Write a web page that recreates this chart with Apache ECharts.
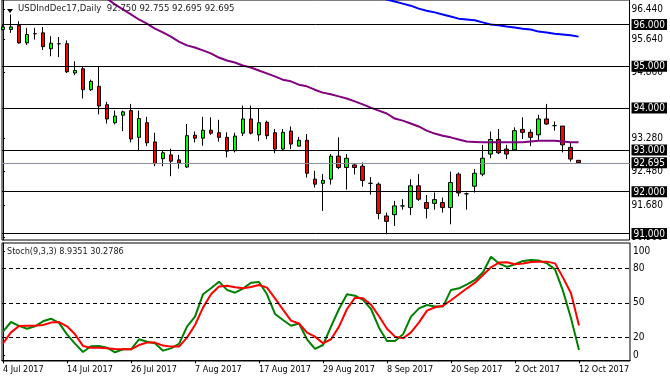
<!DOCTYPE html>
<html><head><meta charset="utf-8">
<script src="https://cdn.jsdelivr.net/npm/echarts@6/dist/echarts.min.js"></script>
<style>html,body{margin:0;padding:0;background:#fff}#c{width:670px;height:382px}</style>
</head><body><div id="c"></div>
<script>
const symbolName = 'USDIndDec17,Daily';
const tickIdx = [0, 8, 16, 24, 32, 40, 48, 56, 64, 72];
const tickLabels = ['4 Jul 2017','14 Jul 2017','26 Jul 2017','7 Aug 2017','17 Aug 2017','29 Aug 2017','8 Sep 2017','20 Sep 2017','2 Oct 2017','12 Oct 2017'];

const opens  = [95.88,95.88,95.98,95.56,95.78,95.80,95.42,95.54,95.54,94.84,94.94,94.44,94.52,94.08,93.65,93.83,93.94,93.30,93.65,93.19,92.79,92.88,92.76,92.59,93.35,93.28,93.47,93.41,93.30,92.98,93.40,93.74,93.36,93.66,93.41,93.02,93.45,93.09,93.23,92.30,92.20,92.30,92.85,92.58,92.64,92.61,92.20,92.18,91.42,91.45,91.66,91.62,92.14,91.74,91.72,91.74,91.62,92.42,91.95,92.13,92.42,92.90,93.25,93.02,93.00,93.49,93.42,93.36,93.74,93.58,93.57,93.06,92.750];
const highs  = [96.00,96.24,96.08,95.92,95.92,95.94,95.72,95.70,95.62,95.12,94.99,94.68,94.99,94.15,93.94,93.94,94.10,93.94,93.79,93.41,92.99,93.03,92.88,93.62,93.44,93.79,93.78,93.72,93.42,93.41,94.06,94.06,94.00,93.70,93.50,93.50,93.56,93.31,93.38,92.50,92.42,92.90,93.30,92.90,92.66,92.70,92.35,92.22,91.50,91.78,91.82,92.30,92.42,91.92,91.98,91.86,92.48,92.46,91.98,92.54,93.12,93.44,93.50,93.12,93.54,93.78,93.49,93.84,94.10,93.68,93.57,93.18,92.755];
const lows   = [95.86,95.80,95.54,95.51,95.64,95.39,95.24,95.22,94.84,94.79,94.23,94.41,93.85,93.63,93.61,93.45,93.18,92.97,93.09,92.61,92.61,92.37,92.55,92.57,93.18,93.10,93.36,93.20,92.82,92.94,93.33,93.37,93.21,93.26,92.92,92.97,93.02,93.08,92.34,92.10,91.54,92.17,92.54,92.05,92.41,92.12,91.93,91.34,90.98,91.18,91.57,91.44,91.78,91.36,91.57,91.50,91.22,91.89,91.57,91.98,92.37,92.80,92.90,92.78,92.98,93.26,93.09,93.22,93.60,93.46,92.94,92.72,92.695];
const closes = [95.94,95.94,95.56,95.76,95.78,95.47,95.55,95.54,94.87,94.90,94.44,94.64,94.05,93.74,93.81,93.91,93.26,93.75,93.17,92.67,92.93,92.73,92.69,93.34,93.28,93.47,93.40,93.30,92.97,93.33,93.74,93.40,93.65,93.34,93.02,93.42,93.14,93.23,92.44,92.18,92.27,92.85,92.58,92.80,92.58,92.27,92.20,91.48,91.29,91.66,91.66,92.14,91.82,91.60,91.81,91.62,92.22,91.97,91.95,92.44,92.80,93.25,92.93,92.90,93.46,93.42,93.30,93.74,93.62,93.58,93.12,92.78,92.695];

// moving averages: [bar index, value]
const maPurple = [[12,96.75],[13,96.62],[14,96.48],[15,96.36],[16,96.24],[17,96.12],[18,96.02],[19,95.90],[20,95.81],[21,95.71],[22,95.59],[23,95.50],[24,95.45],[25,95.38],[26,95.31],[27,95.21],[28,95.14],[29,95.09],[30,95.02],[31,94.97],[32,94.90],[33,94.83],[34,94.76],[35,94.68],[36,94.64],[37,94.56],[38,94.52],[39,94.44],[40,94.37],[41,94.33],[42,94.28],[43,94.23],[44,94.16],[45,94.09],[46,94.01],[47,93.94],[48,93.87],[49,93.75],[50,93.70],[51,93.63],[52,93.56],[53,93.46],[54,93.39],[55,93.34],[56,93.30],[57,93.25],[58,93.20],[59,93.19],[60,93.18],[61,93.18],[62,93.18],[63,93.18],[64,93.18],[65,93.18],[66,93.20],[67,93.22],[68,93.22],[69,93.22],[70,93.20],[71,93.18],[72,93.18]];
const maBlue = [[46,96.70],[47,96.65],[48,96.60],[49,96.55],[50,96.50],[51,96.45],[52,96.38],[53,96.33],[54,96.29],[55,96.24],[56,96.19],[57,96.14],[58,96.12],[59,96.10],[60,96.05],[61,96.00],[62,95.98],[63,95.95],[64,95.93],[65,95.90],[66,95.88],[67,95.83],[68,95.81],[69,95.78],[70,95.76],[71,95.74],[72,95.71]];

const stochK = [24.9,33.3,29.9,27.5,29.6,33.9,36.2,32.5,22.6,14.5,7.2,12.2,12.5,11.0,7.0,9.6,9.6,18.3,16.2,14.8,8.4,10.4,14.2,29.3,38.0,57.4,62.6,68.4,61.2,58.8,62.3,67.5,68.1,57.4,40.3,35.1,30.1,32.0,18.3,9.9,13.3,29.3,44.6,57.4,56.2,52.5,44.6,28.4,16.8,16.8,22.6,38.0,45.2,48.1,46.7,46.7,61.2,62.6,66.1,69.9,76.5,90.1,84.1,81.2,83.5,86.4,87.2,86.7,84.3,79.1,60.3,36.5,8.9351];
const stochD = [14.8,24.3,29.9,30.1,30.1,30.7,32.8,33.3,29.6,22.6,12.5,11.0,11.0,10.4,9.9,9.6,9.6,13.3,15.4,15.4,12.8,11.9,11.9,19.7,30.7,45.8,57.4,64.1,64.9,63.5,62.6,63.8,65.5,63.2,53.9,44.1,34.5,32.0,24.1,20.6,14.8,18.3,29.3,44.6,54.5,53.9,48.4,38.3,27.5,20.6,19.1,24.3,33.0,43.2,46.1,47.5,52.2,57.4,62.6,67.5,74.2,80.9,85.0,85.2,83.5,84.1,85.5,85.8,85.8,84.3,71.9,58.3,30.2786];

const levelLines = [96, 95, 94, 93, 92, 91];
const priceTickPos  = [96.355, 95.64, 94.86, 93.28, 92.48, 91.68, 90.90];
const priceTickText = ['96.440','95.640','94.860','93.280','92.480','91.680','90.900'];
const stochLevels = [20, 50, 80];
const stochTickPos  = [4.6, 20, 50, 80, 95];
const stochTickText = ['0','20','50','80','100'];

const FONT = "'DejaVu Sans Condensed','DejaVu Sans',sans-serif";
const n = closes.length;
const lastClose = closes[n-1];
const candleData = opens.map((o,i)=>[i, o, closes[i], lows[i], highs[i]]);
const kData = stochK.map((v,i)=>[i,v]);
const dData = stochD.map((v,i)=>[i,v]);
const boxVals = levelLines.concat([lastClose]);
const near = (a,b)=>Math.abs(a-b)<1e-6;

const chart = echarts.init(document.getElementById('c'));
chart.setOption({
  animation:false,
  backgroundColor:'#fff',
  title:[
    {text: symbolName + '  ' + [opens[n-1],highs[n-1],lows[n-1],closes[n-1]].map(v=>v.toFixed(3)).join(' '),
     left:18, top:4, padding:0, textStyle:{fontFamily:FONT,fontSize:9.5,fontWeight:'normal',color:'#1a1a1a'}},
    {text:'Stoch(9,3,3) ' + stochK[n-1].toFixed(4) + ' ' + stochD[n-1].toFixed(4),
     left:7, top:247, padding:0, textStyle:{fontFamily:FONT,fontSize:9,fontWeight:'normal',color:'#1a1a1a'}}
  ],
  graphic:[{type:'polygon', shape:{points:[[7,9],[13,9],[10,13]]}, style:{fill:'#000'}}],
  grid:[
    {left:2,right:40,top:0,height:240,show:true,borderColor:'#000',borderWidth:1,backgroundColor:'#fff'},
    {left:2,right:40,top:243,height:118,show:true,borderColor:'#000',borderWidth:1,backgroundColor:'#fff'}
  ],
  xAxis:[
    {type:'value',gridIndex:0,min:-0.125,max:78.375,show:false},
    {type:'value',gridIndex:1,min:-0.125,max:78.375,splitLine:{show:false},
     axisLine:{show:true,lineStyle:{color:'#000'}},
     axisTick:{show:true,customValues:tickIdx,length:3,lineStyle:{color:'#000'}},
     axisLabel:{customValues:tickIdx,formatter:v=>tickLabels[tickIdx.indexOf(v)],align:'left',margin:4,
       fontFamily:FONT,fontSize:9,color:'#000'}}
  ],
  yAxis:[
    {type:'value',gridIndex:0,position:'right',min:90.844,max:96.586,splitLine:{show:false},
     axisLine:{show:true,lineStyle:{color:'#000'}},
     axisTick:{show:true,customValues:priceTickPos,length:2,lineStyle:{color:'#000'}},
     axisLabel:{customValues:priceTickPos.concat(boxVals),margin:2,fontFamily:FONT,fontSize:10,color:'#000',
       formatter:v=>{
         const k = priceTickPos.findIndex(p=>near(p,v));
         if (k>=0 && !boxVals.some(b=>near(b,v))) return priceTickText[k];
         return '{b|' + v.toFixed(3) + '}';
       },
       rich:{b:{backgroundColor:'#000',color:'#fff',padding:[1,2,0,2],fontFamily:FONT,fontSize:10}}}},
    {type:'value',gridIndex:1,position:'right',min:-0.6,max:102,splitLine:{show:false},
     axisLine:{show:true,lineStyle:{color:'#000'}},
     axisTick:{show:true,customValues:stochTickPos,length:2,lineStyle:{color:'#000'}},
     axisLabel:{customValues:stochTickPos,margin:3,fontFamily:FONT,fontSize:10,color:'#000',
       formatter:v=>stochTickText[stochTickPos.findIndex(p=>near(p,v))]}}
  ],
  series:[
    {type:'candlestick',xAxisIndex:0,yAxisIndex:0,data:candleData,encode:{x:0,y:[1,2,3,4]},barWidth:4,
     itemStyle:{color:'#00ff00',color0:'#ff0000',borderColor:'#000',borderColor0:'#000',borderWidth:1},
     markLine:{silent:true,symbol:'none',label:{show:false},animation:false,
       data:levelLines.map(v=>({yAxis:v,lineStyle:{color:'#000',width:1,type:'solid'}}))
         .concat([{yAxis:lastClose,lineStyle:{color:'#8a9099',width:1,type:'solid'}}])},
     z:2},
    {type:'line',xAxisIndex:0,yAxisIndex:0,data:maPurple,symbol:'none',lineStyle:{color:'#800080',width:2},z:3},
    {type:'line',xAxisIndex:0,yAxisIndex:0,data:maBlue,symbol:'none',lineStyle:{color:'#0000ff',width:2},z:3},
    {type:'line',xAxisIndex:1,yAxisIndex:1,data:kData,symbol:'none',lineStyle:{color:'#008000',width:2},
     markLine:{silent:true,symbol:'none',label:{show:false},animation:false,
       lineStyle:{color:'#000',width:1,type:[4,3]},data:stochLevels.map(v=>({yAxis:v}))}},
    {type:'line',xAxisIndex:1,yAxisIndex:1,data:dData,symbol:'none',lineStyle:{color:'#ff0000',width:2}}
  ]
});
</script>
</body></html>
